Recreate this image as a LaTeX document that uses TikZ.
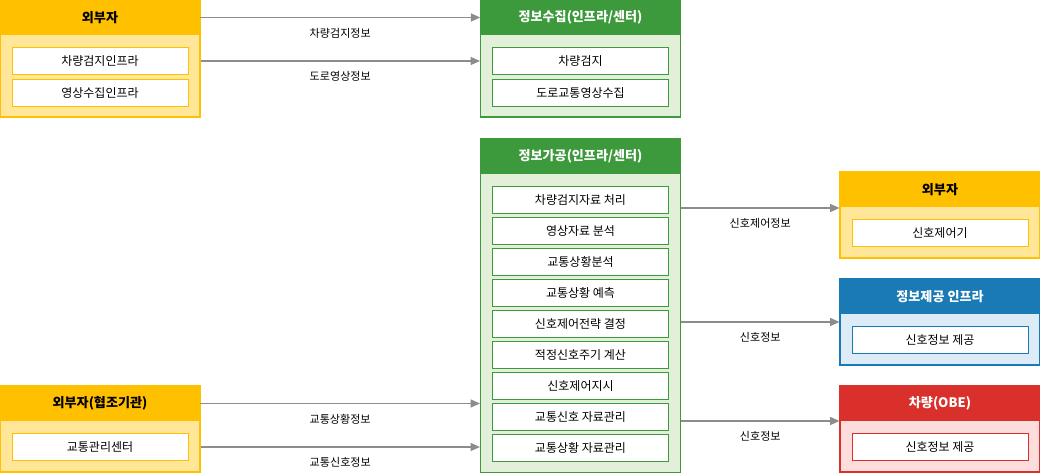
\documentclass[tikz,border=0pt]{standalone}
\usepackage{fontspec}
\setmainfont{Noto Sans CJK KR}
\usetikzlibrary{arrows.meta,positioning}
\definecolor{ylwH}{HTML}{FFC000}
\definecolor{ylwB}{HTML}{FFE699}
\definecolor{grnH}{HTML}{3C9A3C}
\definecolor{grnB}{HTML}{E2F0D9}
\definecolor{bluH}{HTML}{1A7AB5}
\definecolor{bluB}{HTML}{DDEBF7}
\definecolor{redH}{HTML}{D9302B}
\definecolor{redB}{HTML}{FDDCDC}
\definecolor{arrG}{HTML}{8C8C8C}
\begin{document}
\begin{tikzpicture}[x=0.75pt,y=-0.75pt,
    panel/.style={rectangle,draw=#1H,fill=#1B,line width=0.8pt,minimum width=150pt,inner sep=0pt},
    head/.style={rectangle,fill=#1H,minimum width=150pt,minimum height=26.25pt,font=\bfseries\fontsize{9.8}{11}\selectfont,inner sep=0pt},
    item/.style={rectangle,draw=#1H,fill=white,line width=0.6pt,minimum width=132pt,minimum height=20pt,font=\fontsize{9}{10}\selectfont,inner sep=0pt},
    arr/.style={draw=arrG,line width=1pt,-{Triangle[length=7pt,width=6pt]}},
    lbl/.style={font=\fontsize{8.3}{9}\selectfont,below=4pt,midway},
  ]
  \useasboundingbox (0,0) rectangle (1040,473);

  %% Left side
  \node[panel=ylw,minimum height=87.75pt] (ext1) at (100,58.5) {};
  \node[head=ylw] (ext1h) at (100,17.5) {외부자};
  \node[item=ylw] (a1) at (100,61) {차량검지인프라};
  \node[item=ylw] (a2) at (100,93) {영상수집인프라};

  \node[panel=ylw,minimum height=64.5pt] (coop) at (100,429) {};
  \node[head=ylw] (cooph) at (100,403.5) {외부자(협조기관)};
  \node[item=ylw] (c1) at (100,447) {교통관리센터};

  %% Middle
  \node[panel=grn,minimum height=87.75pt] (col) at (580.5,58.5) {};
  \node[head=grn,text=white] (colh) at (580.5,17.5) {정보수집(인프라/센터)};
  \node[item=grn] (b1) at (580.5,61) {차량검지};
  \node[item=grn] (b2) at (580.5,93) {도로교통영상수집};

  \node[panel=grn,minimum height=250pt] (proc) at (580.5,305.5) {};
  \node[head=grn,text=white] (proch) at (580.5,156.5) {정보가공(인프라/센터)};
  \foreach \t [count=\i] in {차량검지자료 처리,영상자료 분석,교통상황분석,교통상황 예측,
      신호제어전략 결정,적정신호주기 계산,신호제어지시,교통신호 자료관리,교통상황 자료관리}
    \node[item=grn] (p\i) at (580.5,{169+31*\i}) {\t};

  %% Right side
  \node[panel=ylw,minimum height=64.5pt] (ext2) at (940,215) {};
  \node[head=ylw] (ext2h) at (940,189.5) {외부자};
  \node[item=ylw] (d1) at (940,233) {신호제어기};

  \node[panel=blu,minimum height=64.5pt] (inf) at (940,322) {};
  \node[head=blu,text=white] (infh) at (940,296.5) {정보제공 인프라};
  \node[item=blu] (e1) at (940,340) {신호정보 제공};

  \node[panel=red,minimum height=64.5pt] (obe) at (940,429) {};
  \node[head=red,text=white] (obeh) at (940,403.5) {차량(OBE)};
  \node[item=red] (f1) at (940,447) {신호정보 제공};

  %% Connectors
  \draw[arr] (ext1h.east) -- (colh.west) node[lbl] {차량검지정보};
  \draw[arr] (a1.east -| ext1.east) -- (a1.east -| col.west) node[lbl] {도로영상정보};
  \draw[arr] (cooph.east) -- (cooph.east -| proc.west) node[lbl] {교통상황정보};
  \draw[arr] (c1.east -| coop.east) -- (c1.east -| proc.west) node[lbl] {교통신호정보};
  \draw[arr] (proc.east |- 0,208) -- (ext2.west |- 0,208) node[lbl] {신호제어정보};
  \draw[arr] (proc.east |- inf.west) -- (inf.west) node[lbl] {신호정보};
  \draw[arr] (proc.east |- 0,421) -- (obe.west |- 0,421) node[lbl] {신호정보};
\end{tikzpicture}
\end{document}
